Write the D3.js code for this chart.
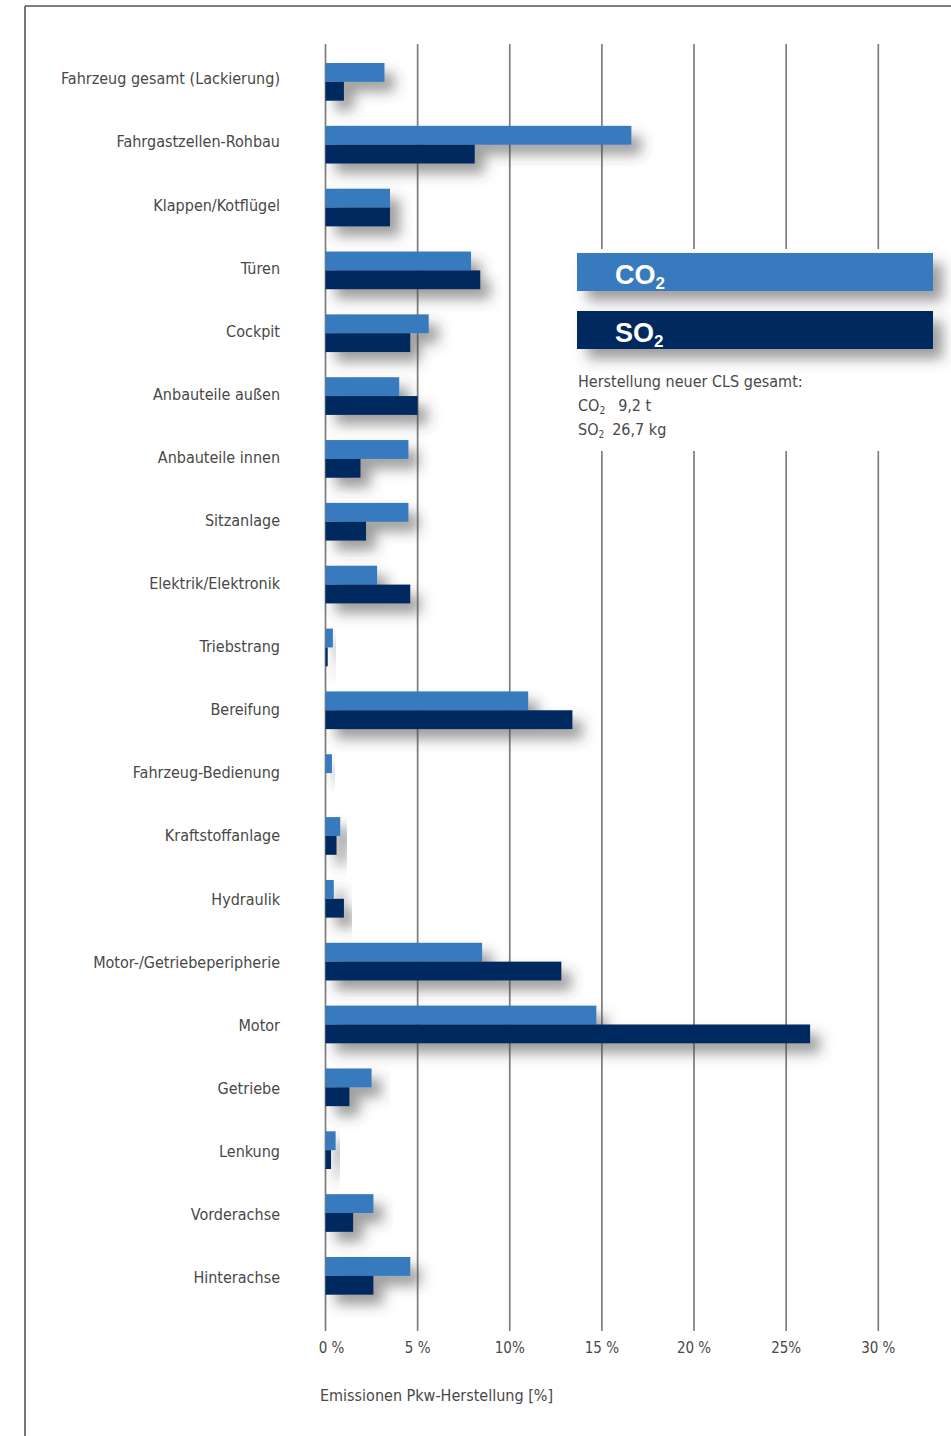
<!DOCTYPE html>
<html>
<head>
<meta charset="utf-8">
<script src="https://cdn.jsdelivr.net/npm/d3@7"></script>
<style>
  html, body { margin: 0; padding: 0; background: #fff; }
  svg { display: block; }
  .lbl { font-family: "Liberation Sans Narrow", "DejaVu Sans Condensed", "Roboto", sans-serif; fill: #484848; }
</style>
</head>
<body>
<svg id="chart" width="951" height="1436"></svg>
<script>
// Component groups of the car
const categories = [
  "Fahrzeug gesamt (Lackierung)",
  "Fahrgastzellen-Rohbau",
  "Klappen/Kotflügel",
  "Türen",
  "Cockpit",
  "Anbauteile außen",
  "Anbauteile innen",
  "Sitzanlage",
  "Elektrik/Elektronik",
  "Triebstrang",
  "Bereifung",
  "Fahrzeug-Bedienung",
  "Kraftstoffanlage",
  "Hydraulik",
  "Motor-/Getriebeperipherie",
  "Motor",
  "Getriebe",
  "Lenkung",
  "Vorderachse",
  "Hinterachse"
];

// Share of production emissions [%]
const co2Values = [3.2, 16.6, 3.5, 7.9, 5.6, 4.0, 4.5, 4.5, 2.8, 0.4, 11.0, 0.35, 0.8, 0.45, 8.5, 14.7, 2.5, 0.55, 2.6, 4.6];
const so2Values = [1.0, 8.1, 3.5, 8.4, 4.6, 5.0, 1.9, 2.2, 4.6, 0.12, 13.4, 0.0, 0.6, 1.0, 12.8, 26.3, 1.3, 0.3, 1.5, 2.6];

const tickValues = [0, 5, 10, 15, 20, 25, 30];
const tickLabels = ["0 %", "5 %", "10%", "15 %", "20 %", "25%", "30 %"];

const seriesNames = ["CO", "SO"];
const totalsTitle = "Herstellung neuer CLS gesamt:";
const totals = [["CO", "9,2 t"], ["SO", "26,7 kg"]];
const axisTitle = "Emissionen Pkw-Herstellung [%]";

const colors = { co2: "#377abe", so2: "#022a5e" };

const svg = d3.select("#chart");

// soft drop shadow for bars and legend boxes
const defs = svg.append("defs");
const f = defs.append("filter").attr("id", "shadow")
  .attr("x", "-20%").attr("y", "-50%").attr("width", "160%").attr("height", "250%");
f.append("feDropShadow")
  .attr("dx", 10).attr("dy", 10).attr("stdDeviation", 6.5)
  .attr("flood-color", "#3a3a3a").attr("flood-opacity", 0.5);

// frame
svg.append("line").attr("x1", 25).attr("x2", 951).attr("y1", 6).attr("y2", 6)
  .attr("stroke", "#555").attr("stroke-width", 1.6);
svg.append("line").attr("x1", 25).attr("x2", 25).attr("y1", 6).attr("y2", 1436)
  .attr("stroke", "#555").attr("stroke-width", 1.6);

const x = d3.scaleLinear().domain([0, 30]).range([325.5, 878.3]);
const y = d3.scaleBand().domain(categories).range([63, 1294.7]).paddingInner(0.4).paddingOuter(0);

// vertical grid lines
const grid = svg.append("g");
grid.selectAll("line").data(tickValues).join("line")
  .attr("x1", d => x(d)).attr("x2", d => x(d))
  .attr("y1", 44).attr("y2", 1331)
  .attr("stroke", "#7d7d7d").attr("stroke-width", 1.7);

// tick labels (the zero label sits just right of its line)
svg.append("g").selectAll("text").data(tickValues).join("text")
  .attr("class", "lbl")
  .attr("x", d => x(d) + (d === 0 ? 6 : 0)).attr("y", 1353)
  .attr("text-anchor", "middle")
  .attr("font-size", 15)
  .text((d, i) => tickLabels[i]);

// axis title
svg.append("text").attr("class", "lbl")
  .attr("x", 320).attr("y", 1401).attr("font-size", 16)
  .text(axisTitle);

// white panel behind legend
svg.append("rect").attr("x", 568).attr("y", 249).attr("width", 383).attr("height", 202).attr("fill", "#fff");

// bars
const rows = categories.map((c, i) => ({ cat: c, co2: co2Values[i], so2: so2Values[i] }));
const bh = y.bandwidth() / 2;
const groups = svg.append("g").selectAll("g").data(rows).join("g")
  .attr("filter", "url(#shadow)");
groups.append("rect")
  .attr("x", x(0)).attr("y", d => y(d.cat))
  .attr("width", d => x(d.co2) - x(0)).attr("height", bh)
  .attr("fill", colors.co2);
groups.append("rect")
  .attr("x", x(0)).attr("y", d => y(d.cat) + bh)
  .attr("width", d => x(d.so2) - x(0)).attr("height", bh)
  .attr("fill", colors.so2);

// category labels
svg.append("g").selectAll("text").data(rows).join("text")
  .attr("class", "lbl")
  .attr("x", 280).attr("y", (d, i) => y(d.cat) + y.bandwidth() / 2 - 2 + i * 0.25)
  .attr("text-anchor", "end")
  .attr("dominant-baseline", "middle")
  .attr("font-size", 16)
  .text(d => d.cat);

// legend boxes
const legend = svg.append("g");
[[colors.co2, 253], [colors.so2, 311]].forEach(([col, ly], i) => {
  legend.append("rect").attr("x", 577).attr("y", ly).attr("width", 356).attr("height", 38)
    .attr("fill", col).attr("filter", "url(#shadow)");
  const t = legend.append("text")
    .attr("x", 615).attr("y", ly + 31)
    .attr("font-family", "Liberation Sans, Arial, sans-serif")
    .attr("font-weight", "bold").attr("font-size", 27).attr("fill", "#fff");
  t.append("tspan").text(seriesNames[i]);
  t.append("tspan").attr("font-size", 17).attr("dy", 5).text("2");
});

// totals
svg.append("text").attr("class", "lbl").attr("x", 578).attr("y", 387).attr("font-size", 16).text(totalsTitle);
totals.forEach(([n, v], i) => {
  const t = svg.append("text").attr("class", "lbl").attr("x", 578).attr("y", 411 + i * 24).attr("font-size", 16);
  t.append("tspan").text(n);
  t.append("tspan").attr("font-size", 10).attr("dy", 3).text("2");
  t.append("tspan").attr("dy", -3).attr("dx", i === 0 ? 13 : 8).text(v);
});
</script>
</body>
</html>
